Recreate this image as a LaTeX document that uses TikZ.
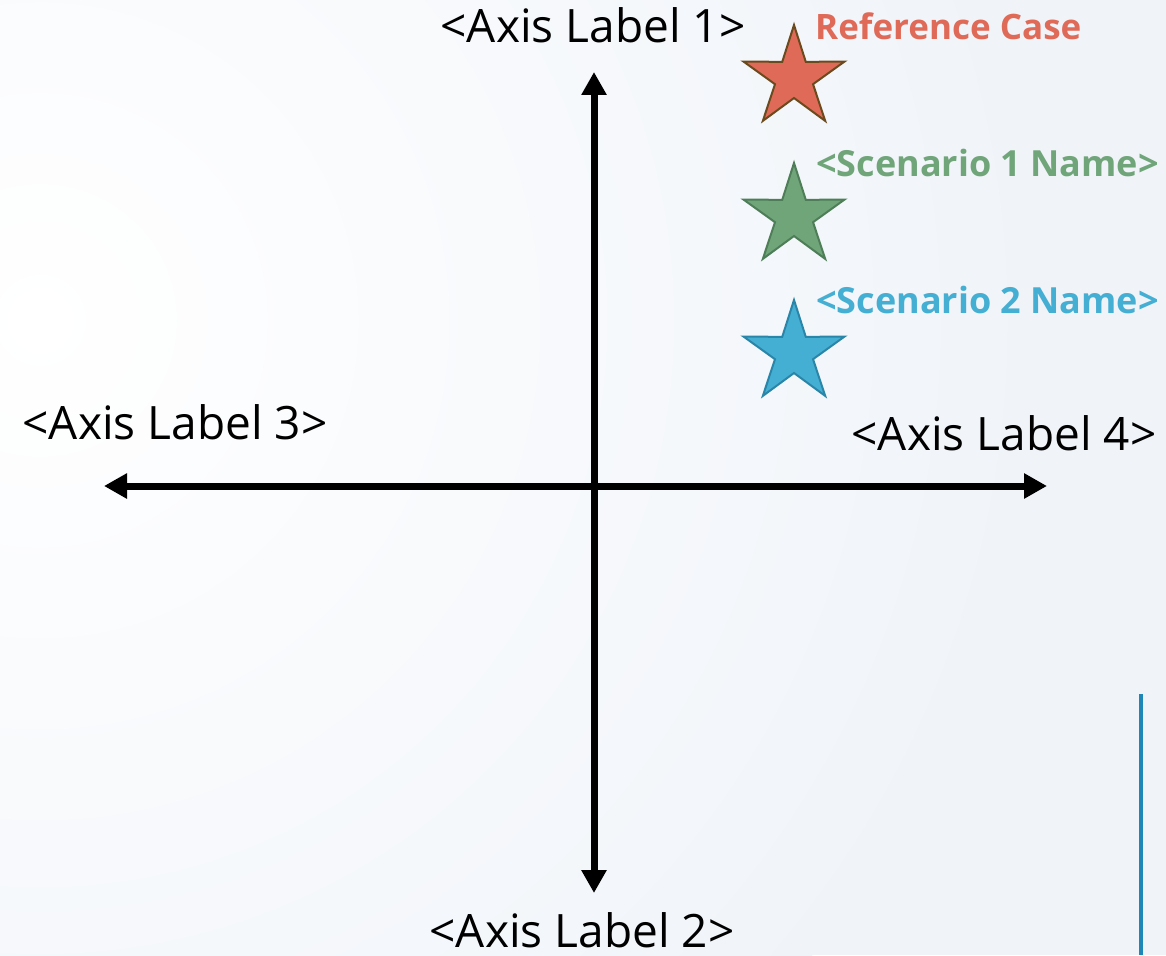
\documentclass[tikz,border=0pt]{standalone}
\usepackage{fontspec}
\setmainfont{Open Sans}
\usetikzlibrary{arrows.meta,shapes.geometric}
\definecolor{bgc}{HTML}{F0F4F9}
\definecolor{refc}{HTML}{E06A58}
\definecolor{refd}{HTML}{6B4A1E}
\definecolor{grnc}{HTML}{70A57A}
\definecolor{grnd}{HTML}{4E7E57}
\definecolor{bluc}{HTML}{45AFD3}
\definecolor{blud}{HTML}{2A86A8}
\definecolor{barc}{HTML}{1F86B8}
\tikzset{
  axis/.style={line width=7pt, -{Triangle[length=23pt,width=24pt]}},
  axlabel/.style={font=\fontsize{46}{52}\selectfont, anchor=base, inner sep=0pt, text depth=0pt},
  starbox/.style={star, star points=5, star point ratio=2.65, minimum size=106pt, inner sep=0pt, line width=2pt},
  sclabel/.style={font=\fontsize{36}{42}\selectfont\bfseries, anchor=base west, inner sep=0pt},
}
\begin{document}
\begin{tikzpicture}[x=1pt,y=-1pt]
\useasboundingbox (0,0) rectangle (1166,955);
\fill[bgc] (0,0) rectangle (1166,955);
\begin{scope}
\clip (0,0) rectangle (1166,955);
\shade[inner color=white, outer color=bgc] (40,320) circle (1000);
\end{scope}
\coordinate (c) at (594,486);
\coordinate (top) at (594,72);
\coordinate (bot) at (594,893);
\coordinate (lft) at (104,486);
\coordinate (rgt) at (1047,486);
\draw[axis] (c) -- (top);
\draw[axis] (c) -- (bot);
\draw[axis] (c) -- (lft);
\draw[axis] (c) -- (rgt);
\node[axlabel] (l1) at (593,43) {<Axis Label 1>};
\node[axlabel] (l3) at (175,439) {<Axis Label 3>};
\node[axlabel] (l4) at (1004,450) {<Axis Label 4>};
\node[axlabel] (l2) at (582,947) {<Axis Label 2>};
\node[starbox, fill=refc, draw=refd] (s0) at (794,78) {};
\node[starbox, fill=grnc, draw=grnd] (s1) at (794,216) {};
\node[starbox, fill=bluc, draw=blud] (s2) at (794,353) {};
\node[sclabel, text=refc, font=\fontsize{35}{42}\selectfont\bfseries] (t0) at (815,40) {Reference Case};
\node[sclabel, text=grnc] (t1) at (816,176) {<Scenario 1 Name>};
\node[sclabel, text=bluc] (t2) at (816,313) {<Scenario 2 Name>};
\coordinate (b0) at (1141,694);
\coordinate (b1) at (1141,955);
\draw[barc, line width=4pt] (b0) -- (b1);
\end{tikzpicture}
\end{document}
